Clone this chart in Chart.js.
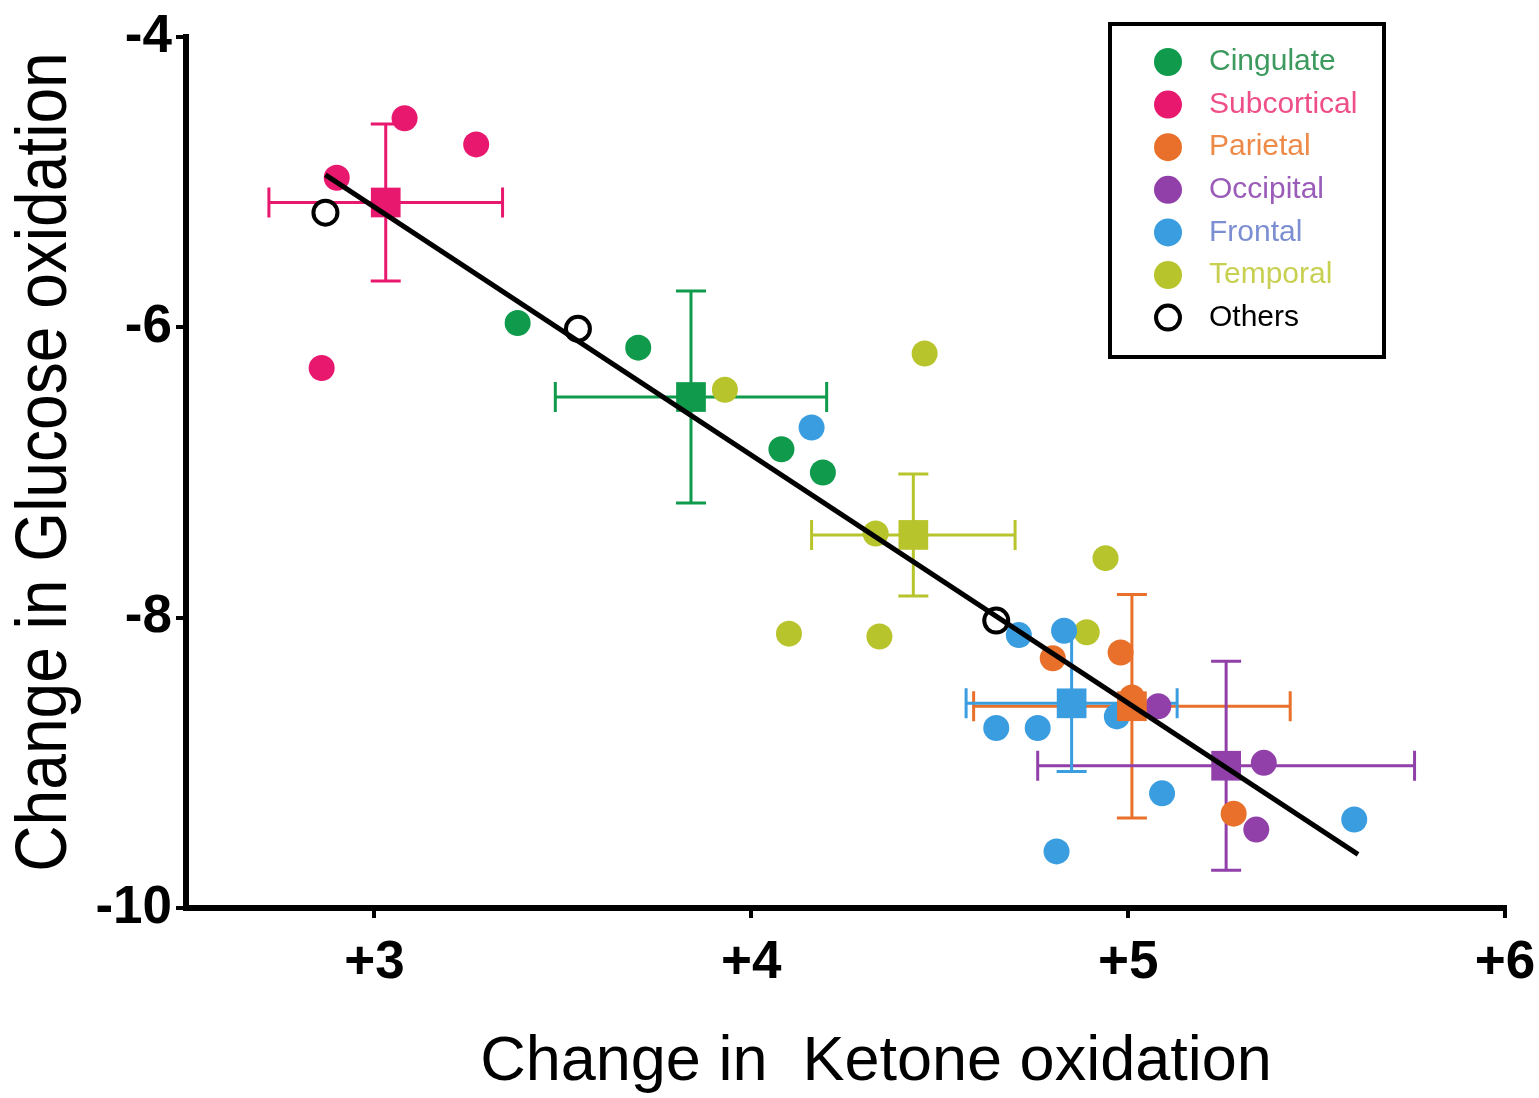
<!DOCTYPE html>
<html>
<head>
<meta charset="utf-8">
<script src="https://cdn.jsdelivr.net/npm/chart.js@4.4.1/dist/chart.umd.min.js"></script>
<style>
    html, body { margin: 0; padding: 0; background: #fff; }
    #wrap { width: 1539px; height: 1098px; }
</style>
</head>
<body>
<div id="wrap"><canvas id="chartKetone"></canvas></div>
<script>
// regions
const regionNames = ['Cingulate', 'Subcortical', 'Parietal', 'Occipital', 'Frontal', 'Temporal', 'Others'];
const regionColors = ['#0f9a4c', '#e8186e', '#e8702a', '#9040a8', '#3a9de0', '#b8c42c', '#000000'];
const legendTextColors = ['#3c9a5e', '#ee4f88', '#ee8a48', '#9a5cb8', '#7c8fd2', '#c8d052', '#000000'];

// single regions (x = ketone, y = glucose)
const cingulateX = [3.38, 3.70, 4.08, 4.19];
const cingulateY = [-5.97, -6.14, -6.84, -7.00];
const subcorticalX = [3.08, 3.27, 2.90, 2.86];
const subcorticalY = [-4.56, -4.74, -4.97, -6.28];
const parietalX = [4.80, 4.98, 5.01, 5.28];
const parietalY = [-8.28, -8.24, -8.55, -9.35];
const occipitalX = [5.08, 5.36, 5.34];
const occipitalY = [-8.61, -9.00, -9.46];
const frontalX = [4.16, 4.71, 4.83, 4.65, 4.76, 4.97, 5.09, 4.81, 5.60];
const frontalY = [-6.69, -8.12, -8.09, -8.76, -8.76, -8.68, -9.21, -9.61, -9.39];
const temporalX = [3.93, 4.46, 4.33, 4.10, 4.34, 4.94, 4.89];
const temporalY = [-6.43, -6.18, -7.42, -8.11, -8.13, -7.59, -8.10];
const othersX = [2.87, 3.54, 4.65];
const othersY = [-5.21, -6.01, -8.02];

// group means +/- error (same order as regionNames, without Others)
const meanX = [3.84, 3.03, 5.01, 5.26, 4.85, 4.43];
const meanY = [-6.48, -5.14, -8.61, -9.02, -8.59, -7.43];
const errX = [0.36, 0.31, 0.42, 0.50, 0.28, 0.27];
const errY = [0.73, 0.54, 0.77, 0.72, 0.47, 0.42];

// regression line
const fitX = [2.87, 5.61];
const fitY = [-4.95, -9.63];

// axes
const xTicks = [3, 4, 5, 6];
const yTicks = [-4, -6, -8, -10];
const xTitle = 'Change in  Ketone oxidation';
const yTitle = 'Change in Glucose oxidation';

const pointSets = [
    [cingulateX, cingulateY],
    [subcorticalX, subcorticalY],
    [parietalX, parietalY],
    [occipitalX, occipitalY],
    [frontalX, frontalY],
    [temporalX, temporalY],
    [othersX, othersY]
];

const toPoints = (xs, ys) => xs.map((x, i) => ({ x, y: ys[i] }));

const datasets = [];

// regression line on top
datasets.push({
    type: 'line',
    label: 'fit',
    data: toPoints(fitX, fitY),
    borderColor: '#000',
    borderWidth: 5,
    pointRadius: 0,
    fill: false,
    order: 0
});

// mean squares
meanX.forEach((mx, i) => {
    datasets.push({
        type: 'scatter',
        label: regionNames[i] + ' mean',
        data: [{ x: mx, y: meanY[i] }],
        pointStyle: 'rect',
        pointRadius: 21,
        backgroundColor: regionColors[i],
        borderWidth: 0,
        order: 1
    });
});

// region dots
pointSets.forEach(([xs, ys], i) => {
    const isOther = regionNames[i] === 'Others';
    datasets.push({
        type: 'scatter',
        label: regionNames[i],
        data: toPoints(xs, ys),
        pointRadius: isOther ? 12 : 13,
        backgroundColor: isOther ? '#fff' : regionColors[i],
        borderColor: regionColors[i],
        borderWidth: isOther ? 4 : 0,
        order: 2
    });
});

// error bars for the group means
const errorBars = {
    id: 'errorBars',
    beforeDatasetsDraw(chart) {
        const { ctx, scales: { x, y } } = chart;
        const cap = 15;
        ctx.save();
        ctx.lineWidth = 3;
        meanX.forEach((mx, i) => {
            ctx.strokeStyle = regionColors[i];
            const cx = x.getPixelForValue(mx);
            const cy = y.getPixelForValue(meanY[i]);
            const x0 = x.getPixelForValue(mx - errX[i]);
            const x1 = x.getPixelForValue(mx + errX[i]);
            const y0 = y.getPixelForValue(meanY[i] + errY[i]);
            const y1 = y.getPixelForValue(meanY[i] - errY[i]);
            ctx.beginPath();
            ctx.moveTo(x0, cy); ctx.lineTo(x1, cy);
            ctx.moveTo(x0, cy - cap); ctx.lineTo(x0, cy + cap);
            ctx.moveTo(x1, cy - cap); ctx.lineTo(x1, cy + cap);
            ctx.moveTo(cx, y0); ctx.lineTo(cx, y1);
            ctx.moveTo(cx - cap, y0); ctx.lineTo(cx + cap, y0);
            ctx.moveTo(cx - cap, y1); ctx.lineTo(cx + cap, y1);
            ctx.stroke();
        });
        ctx.restore();
    }
};

// axis titles (y one is a condensed face in the original)
const axisTitles = {
    id: 'axisTitles',
    afterDraw(chart) {
        const { ctx } = chart;
        ctx.save();
        ctx.fillStyle = '#000';
        ctx.textAlign = 'center';
        ctx.textBaseline = 'middle';
        ctx.font = '63px "Liberation Sans", Arial, sans-serif';
        ctx.fillText(xTitle, 876, 1063);
        ctx.translate(46, 462);
        ctx.rotate(-Math.PI / 2);
        ctx.scale(0.89, 1);
        ctx.font = '72px "Liberation Sans", Arial, sans-serif';
        ctx.fillText(yTitle, 0, 0);
        ctx.restore();
    }
};

// boxed legend inside the plot
const boxLegend = {
    id: 'boxLegend',
    afterDraw(chart) {
        const { ctx } = chart;
        const left = 1110, top = 24, w = 274, h = 333;
        ctx.save();
        ctx.fillStyle = '#fff';
        ctx.fillRect(left, top, w, h);
        ctx.lineWidth = 4;
        ctx.strokeStyle = '#000';
        ctx.strokeRect(left, top, w, h);
        ctx.font = '30px "Liberation Sans", Arial, sans-serif';
        ctx.textBaseline = 'middle';
        regionNames.forEach((name, i) => {
            const cy = 62 + i * 42.6;
            ctx.beginPath();
            if (name === 'Others') {
                ctx.arc(1168, cy, 12, 0, Math.PI * 2);
                ctx.lineWidth = 4;
                ctx.strokeStyle = '#000';
                ctx.stroke();
            } else {
                ctx.arc(1168, cy, 14, 0, Math.PI * 2);
                ctx.fillStyle = regionColors[i];
                ctx.fill();
            }
            ctx.fillStyle = legendTextColors[i];
            ctx.fillText(name, 1209, cy);
        });
        ctx.restore();
    }
};

const axisFont = { family: '"Liberation Sans", Arial, sans-serif', size: 53, weight: 'bold' };

new Chart(document.getElementById('chartKetone'), {
    type: 'scatter',
    data: { datasets },
    plugins: [errorBars, axisTitles, boxLegend],
    options: {
        responsive: true,
        maintainAspectRatio: false,
        animation: false,
        layout: { padding: { top: 37, right: 34, left: 0, bottom: 0 } },
        plugins: {
            legend: { display: false },
            tooltip: { enabled: false }
        },
        scales: {
            x: {
                type: 'linear',
                min: 2.5,
                max: 6,
                afterBuildTicks: scale => { scale.ticks = xTicks.map(v => ({ value: v })); },
                afterFit: scale => {
                    scale.height = 190;
                    scale.paddingRight = 0;
                    scale.paddingLeft = 0;
                },
                border: { display: true, color: '#000', width: 6 },
                grid: { drawOnChartArea: false, drawTicks: true, tickLength: 10, color: '#000', lineWidth: 4 },
                ticks: {
                    color: '#000',
                    font: axisFont,
                    padding: 14,
                    maxRotation: 0,
                    callback: v => '+' + v
                },
                title: { display: false, text: xTitle }
            },
            y: {
                type: 'linear',
                min: -10,
                max: -4,
                afterBuildTicks: scale => { scale.ticks = yTicks.map(v => ({ value: v })); },
                afterFit: scale => { scale.width = 186; },
                border: { display: true, color: '#000', width: 6 },
                grid: { drawOnChartArea: false, drawTicks: true, tickLength: 10, color: '#000', lineWidth: 4 },
                ticks: {
                    color: '#000',
                    font: axisFont,
                    padding: 4
                },
                title: { display: false, text: yTitle }
            }
        }
    }
});
</script>
</body>
</html>
